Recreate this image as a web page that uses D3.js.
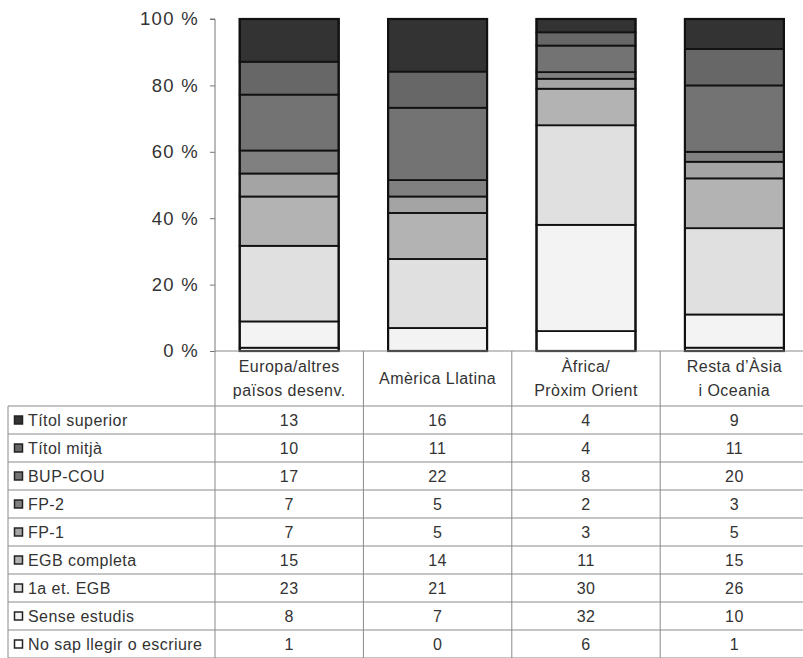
<!DOCTYPE html>
<html>
<head>
<meta charset="utf-8">
<script src="https://cdn.jsdelivr.net/npm/d3@7"></script>
<style>
  html, body { margin: 0; padding: 0; background: #fff; }
  svg { display: block; font-family: "Liberation Sans", Arial, Helvetica, sans-serif; }
</style>
</head>
<body>
<svg id="chart" width="803" height="658"></svg>
<script>
// Regions (columns), two-line headers
const regions = ["Europa/altres països desenv.", "Amèrica Llatina", "Àfrica/Pròxim Orient", "Resta d'Àsia i Oceania"];
const regionHeaders = [
  ["Europa/altres", "països desenv."],
  ["Amèrica Llatina"],
  ["Àfrica/", "Pròxim Orient"],
  ["Resta d’Àsia", "i Oceania"]
];

// Education levels, top of the stack first (same order as the table rows)
const levels = ["Títol superior", "Títol mitjà", "BUP-COU", "FP-2", "FP-1", "EGB completa", "1a et. EGB", "Sense estudis", "No sap llegir o escriure"];

// Percentages per level, one value per region
const titolSuperior = [13, 16, 4, 9];
const titolMitja    = [10, 11, 4, 11];
const bupCou        = [17, 22, 8, 20];
const fp2           = [7, 5, 2, 3];
const fp1           = [7, 5, 3, 5];
const egbCompleta   = [15, 14, 11, 15];
const primeraEtEgb  = [23, 21, 30, 26];
const senseEstudis  = [8, 7, 32, 10];
const noSap         = [1, 0, 6, 1];

const seriesValues = [titolSuperior, titolMitja, bupCou, fp2, fp1, egbCompleta, primeraEtEgb, senseEstudis, noSap];

const levelColors = ["#333333", "#676767", "#737373", "#808080", "#a4a4a4", "#b3b3b3", "#e0e0e0", "#f3f3f3", "#ffffff"];

const yTicks = [0, 20, 40, 60, 80, 100];

// ---- layout ----
const svg = d3.select("#chart");
const plotLeft = 215, plotRight = 808.6, plotTop = 19, plotBottom = 351;
const tableLeft = 8, headerBottom = 406, rowH = 28;
const textColor = "#333";

const x = d3.scaleBand().domain(regions).range([plotLeft, plotRight]).padding(0);
const barW = x.bandwidth() * 0.667;
const y = d3.scaleLinear().domain([0, 100]).range([plotBottom, plotTop]);

// ---- stacked bars (bottom level first, normalised to 100 %) ----
const rows = regions.map((r, j) => {
  const o = { region: r };
  levels.forEach((l, i) => { o[l] = seriesValues[i][j]; });
  return o;
});
const stackKeys = levels.slice().reverse();
const stack = d3.stack().keys(stackKeys).offset(d3.stackOffsetExpand);
const stacked = stack(rows);

const barsG = svg.append("g");
stacked.forEach(layer => {
  const color = levelColors[levels.indexOf(layer.key)];
  barsG.selectAll(null)
    .data(layer)
    .join("rect")
    .attr("x", d => x(d.data.region) + (x.bandwidth() - barW) / 2)
    .attr("width", barW)
    .attr("y", d => y(d[1] * 100))
    .attr("height", d => y(d[0] * 100) - y(d[1] * 100))
    .attr("fill", color)
    .attr("stroke", "#111")
    .attr("stroke-width", 1.8);
});
// outer frame of each bar
barsG.selectAll("rect.frame")
  .data(regions)
  .join("rect")
  .attr("class", "frame")
  .attr("x", d => x(d) + (x.bandwidth() - barW) / 2)
  .attr("width", barW)
  .attr("y", y(100))
  .attr("height", y(0) - y(100))
  .attr("fill", "none")
  .attr("stroke", "#111")
  .attr("stroke-width", 2.2);

// ---- y axis ----
const yAxis = d3.axisLeft(y).tickValues(yTicks).tickSize(5).tickPadding(11).tickFormat(d => d + " %");
const yg = svg.append("g").attr("transform", `translate(${plotLeft},0)`).call(yAxis);
yg.select(".domain").attr("stroke", "#777").attr("d", `M-5,${plotTop}H0V${plotBottom}`);
yg.selectAll(".tick line").attr("stroke", "#777");
yg.selectAll(".tick text")
  .attr("fill", textColor)
  .style("font-size", "18.5px")
  .style("letter-spacing", "1.3px");

// ---- data table ----
const gridColor = "#8a8a8a";
const cellFont = "16px";
const cellSpacing = "0.45px";
const tableG = svg.append("g");
const tableBottom = headerBottom + levels.length * rowH;

// horizontal rules
tableG.append("line").attr("x1", plotLeft).attr("x2", 803).attr("y1", plotBottom).attr("y2", plotBottom)
  .attr("stroke", gridColor);
d3.range(levels.length + 1).forEach(i => {
  tableG.append("line").attr("x1", tableLeft).attr("x2", 803)
    .attr("y1", headerBottom + i * rowH).attr("y2", headerBottom + i * rowH)
    .attr("stroke", gridColor);
});
// vertical rules
tableG.append("line").attr("x1", tableLeft).attr("x2", tableLeft).attr("y1", headerBottom).attr("y2", tableBottom)
  .attr("stroke", gridColor);
regions.forEach(r => {
  tableG.append("line").attr("x1", x(r)).attr("x2", x(r)).attr("y1", plotBottom).attr("y2", tableBottom)
    .attr("stroke", gridColor);
});

// column headers
regions.forEach((r, j) => {
  const lines = regionHeaders[j];
  const cx = x(r) + x.bandwidth() / 2;
  const midY = (plotBottom + headerBottom) / 2;
  lines.forEach((t, k) => {
    tableG.append("text")
      .attr("x", cx)
      .attr("y", midY + (k - (lines.length - 1) / 2) * 24)
      .attr("dy", "0.35em")
      .attr("text-anchor", "middle")
      .attr("fill", textColor)
      .style("font-size", cellFont)
      .style("letter-spacing", cellSpacing)
      .text(t);
  });
});

// row labels with legend swatches, and values
levels.forEach((l, i) => {
  const cy = headerBottom + i * rowH + rowH / 2;
  tableG.append("rect")
    .attr("x", 14.5).attr("y", cy - 4).attr("width", 8).attr("height", 8)
    .attr("fill", levelColors[i]).attr("stroke", "#222").attr("stroke-width", 1.5);
  tableG.append("text")
    .attr("x", 28).attr("y", cy).attr("dy", "0.35em")
    .attr("fill", textColor)
    .style("font-size", cellFont)
    .style("letter-spacing", cellSpacing)
    .text(l);
  regions.forEach((r, j) => {
    tableG.append("text")
      .attr("x", x(r) + x.bandwidth() / 2).attr("y", cy).attr("dy", "0.35em")
      .attr("text-anchor", "middle")
      .attr("fill", textColor)
      .style("font-size", cellFont)
      .style("letter-spacing", cellSpacing)
      .text(seriesValues[i][j]);
  });
});
</script>
</body>
</html>
